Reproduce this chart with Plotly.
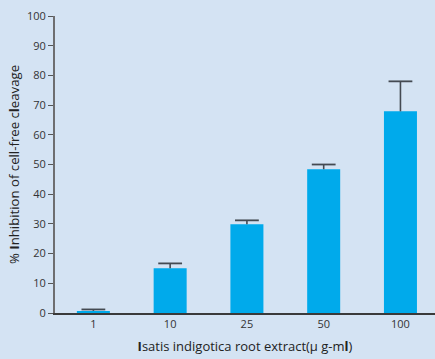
import plotly.graph_objects as go

# Extract concentrations and measured inhibition (mean and upper error)
concentrations = ["1", "10", "25", "50", "100"]
inhibition = [0.7, 15.1, 29.9, 48.4, 67.9]
error_upper = [0.5, 1.6, 1.3, 1.6, 10.1]
y_ticks = [0, 10, 20, 30, 40, 50, 60, 70, 80, 90, 100]

bg = "#d4e3f3"
font_family = "Open Sans, Noto Sans, sans-serif"
err_color = "#444a52"

fig = go.Figure()

# Bars with upward-only error stems (no caps)
fig.add_trace(
    go.Bar(
        x=concentrations,
        y=inhibition,
        width=0.43,
        marker=dict(color="#00aaeb", line=dict(width=0)),
        error_y=dict(
            type="data",
            symmetric=False,
            array=error_upper,
            arrayminus=[0] * len(error_upper),
            color=err_color,
            thickness=1.6,
            width=0,
        ),
    )
)

# Caps at the top of each error stem
fig.add_trace(
    go.Scatter(
        x=concentrations,
        y=[m + e for m, e in zip(inhibition, error_upper)],
        mode="markers",
        marker=dict(symbol="line-ew-open", size=17, color=err_color,
                    line=dict(color=err_color, width=1.8)),
        hoverinfo="skip",
    )
)

fig.update_layout(
    width=435,
    height=359,
    margin=dict(l=55, r=0, t=16, b=46),
    paper_bgcolor=bg,
    plot_bgcolor=bg,
    showlegend=False,
    font=dict(family=font_family, color="#2b2b2b", size=11),
)

fig.update_xaxes(
    type="category",
    range=[-0.5, 4.45],
    showline=True,
    linecolor="#3a3a3a",
    linewidth=1.5,
    ticks="",
    showgrid=False,
    tickfont=dict(size=11, color="#333333"),
    title=dict(
        text="<b>I</b>satis indigotica root extract(\u03bc g-m<b>l</b>)",
        font=dict(size=13, color="#222222"),
        standoff=12,
    ),
)

fig.update_yaxes(
    range=[0, 100],
    tickvals=y_ticks,
    showline=True,
    linecolor="#6e6e70",
    linewidth=2,
    ticks="outside",
    ticklen=5,
    tickwidth=1.3,
    tickcolor="#555555",
    showgrid=False,
    zeroline=False,
    tickfont=dict(size=11, color="#333333"),
    title=dict(
        text="% <b>I</b>nhibition of cell-free c<b>l</b>eavage",
        font=dict(size=13.2, color="#222222"),
        standoff=4,
    ),
)

fig.write_html("out.html")
